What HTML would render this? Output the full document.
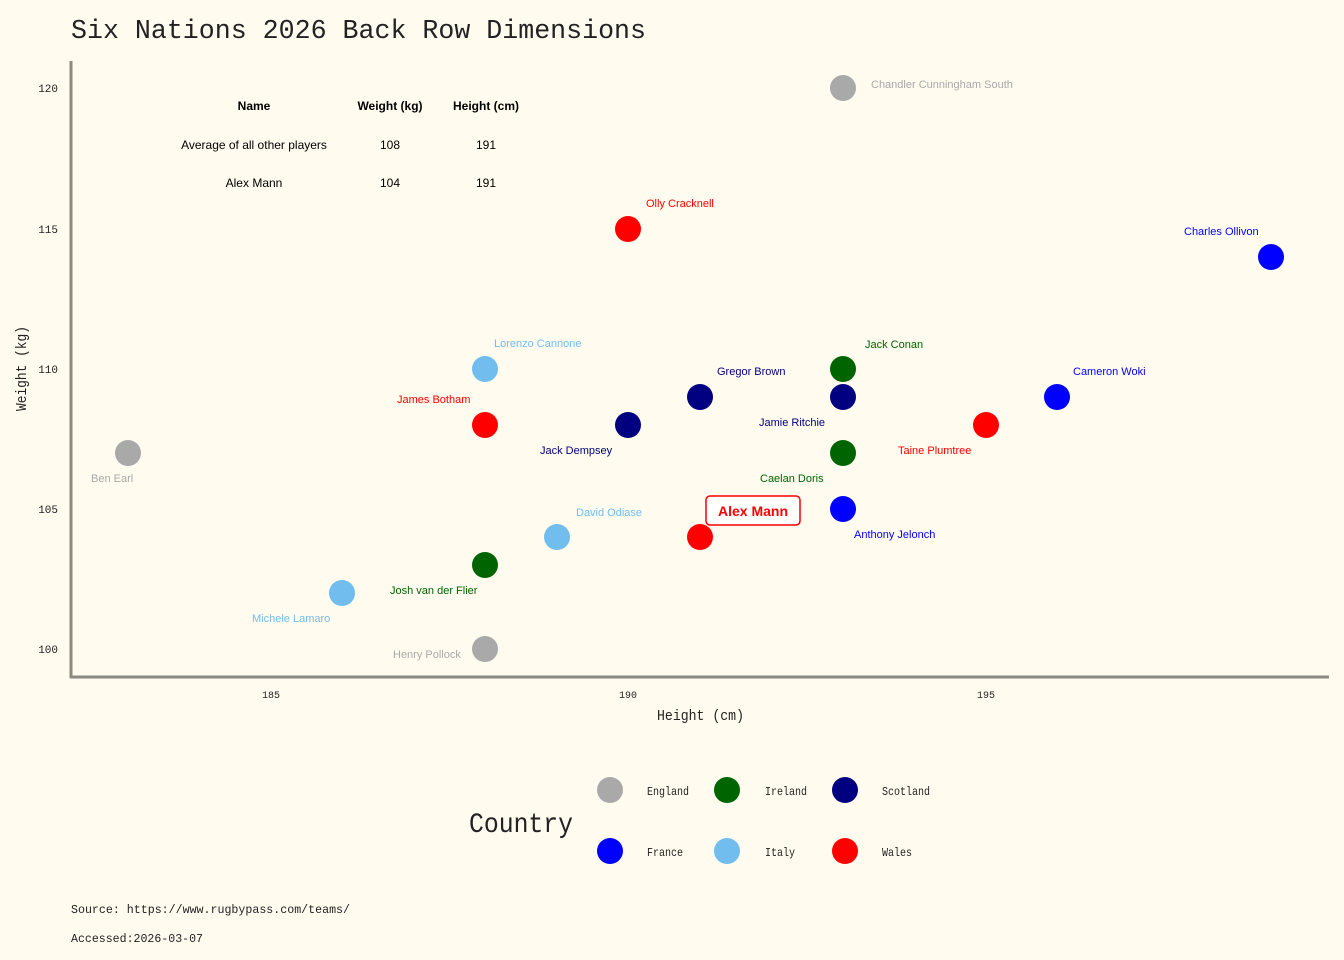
<!DOCTYPE html>
<html><head><meta charset="utf-8"><style>
html,body{margin:0;padding:0;background:#fffbef;}
svg{display:block}
.m{font-family:"Liberation Mono","DejaVu Sans Mono",monospace;fill:#222}
.s{font-family:"Liberation Sans",sans-serif;font-size:11px}
</style></head><body>
<svg width="1344" height="960" viewBox="0 0 1344 960" xmlns="http://www.w3.org/2000/svg">
<rect width="1344" height="960" fill="#fffbef"/>
<text class="m" x="71" y="38" font-size="27" textLength="575" lengthAdjust="spacingAndGlyphs">Six Nations 2026 Back Row Dimensions</text>
<line x1="71" y1="61" x2="71" y2="678" stroke="#8a8a80" stroke-width="3"/>
<line x1="70" y1="677" x2="1329" y2="677" stroke="#8a8a80" stroke-width="3"/>
<g class="m" font-size="11" text-anchor="end">
<text x="58" y="92">120</text><text x="58" y="233">115</text><text x="58" y="373">110</text><text x="58" y="513">105</text><text x="58" y="653">100</text>
</g>
<g class="m" font-size="10" text-anchor="middle">
<text x="271" y="698">185</text><text x="628" y="698">190</text><text x="986" y="698">195</text>
</g>
<text class="m" x="657" y="720" font-size="15" textLength="87" lengthAdjust="spacingAndGlyphs">Height (cm)</text>
<text class="m" font-size="15" transform="translate(26,411) rotate(-90)" textLength="85" lengthAdjust="spacingAndGlyphs">Weight (kg)</text>
<g font-family="Liberation Sans,sans-serif" font-size="12" font-weight="bold" text-anchor="middle" fill="#000">
<text x="254" y="110">Name</text><text x="390" y="110">Weight (kg)</text><text x="486" y="110">Height (cm)</text>
</g>
<g font-family="Liberation Sans,sans-serif" font-size="12" text-anchor="middle" fill="#000">
<text x="254" y="149">Average of all other players</text><text x="390" y="149">108</text><text x="486" y="149">191</text>
<text x="254" y="187">Alex Mann</text><text x="390" y="187">104</text><text x="486" y="187">191</text>
</g>
<g>
<circle cx="843" cy="88" r="13" fill="#a9a9a9"/>
<circle cx="628" cy="229" r="13" fill="#ff0000"/>
<circle cx="1271" cy="257" r="13" fill="#0000ff"/>
<circle cx="485" cy="369" r="13" fill="#71bdee"/>
<circle cx="843" cy="369" r="13" fill="#006400"/>
<circle cx="700" cy="397" r="13" fill="#000080"/>
<circle cx="843" cy="397" r="13" fill="#000080"/>
<circle cx="1057" cy="397" r="13" fill="#0000ff"/>
<circle cx="485" cy="425" r="13" fill="#ff0000"/>
<circle cx="628" cy="425" r="13" fill="#000080"/>
<circle cx="986" cy="425" r="13" fill="#ff0000"/>
<circle cx="128" cy="453" r="13" fill="#a9a9a9"/>
<circle cx="843" cy="453" r="13" fill="#006400"/>
<circle cx="843" cy="509" r="13" fill="#0000ff"/>
<circle cx="557" cy="537" r="13" fill="#71bdee"/>
<circle cx="700" cy="537" r="13" fill="#ff0000"/>
<circle cx="485" cy="565" r="13" fill="#006400"/>
<circle cx="342" cy="593" r="13" fill="#71bdee"/>
<circle cx="485" cy="649" r="13" fill="#a9a9a9"/>
</g>
<g class="s">
<text x="871" y="88" fill="#a9a9a9">Chandler Cunningham South</text>
<text x="646" y="207" fill="#ff0000">Olly Cracknell</text>
<text x="1184" y="235" fill="#0000ff">Charles Ollivon</text>
<text x="494" y="347" fill="#71bdee">Lorenzo Cannone</text>
<text x="865" y="348" fill="#006400">Jack Conan</text>
<text x="717" y="375" fill="#000080">Gregor Brown</text>
<text x="1073" y="375" fill="#0000ff">Cameron Woki</text>
<text x="397" y="403" fill="#ff0000">James Botham</text>
<text x="759" y="426" fill="#000080">Jamie Ritchie</text>
<text x="540" y="454" fill="#000080">Jack Dempsey</text>
<text x="898" y="454" fill="#ff0000">Taine Plumtree</text>
<text x="91" y="482" fill="#a9a9a9">Ben Earl</text>
<text x="760" y="482" fill="#006400">Caelan Doris</text>
<text x="576" y="516" fill="#71bdee">David Odiase</text>
<text x="854" y="538" fill="#0000ff">Anthony Jelonch</text>
<text x="390" y="594" fill="#006400">Josh van der Flier</text>
<text x="252" y="622" fill="#71bdee">Michele Lamaro</text>
<text x="393" y="658" fill="#a9a9a9">Henry Pollock</text>
</g>
<rect x="706" y="496" width="94" height="29" rx="4" fill="#fff" stroke="#ff0000" stroke-width="1.5"/>
<text x="753" y="516" text-anchor="middle" font-family="Liberation Sans,sans-serif" font-size="14" font-weight="bold" fill="#ff0000">Alex Mann</text>
<text class="m" x="469" y="832" font-size="28" textLength="104" lengthAdjust="spacingAndGlyphs">Country</text>
<circle cx="610" cy="790" r="13" fill="#a9a9a9"/><circle cx="727" cy="790" r="13" fill="#006400"/><circle cx="845" cy="790" r="13" fill="#000080"/>
<circle cx="610" cy="851" r="13" fill="#0000ff"/><circle cx="727" cy="851" r="13" fill="#71bdee"/><circle cx="845" cy="851" r="13" fill="#ff0000"/>
<g class="m" font-size="12">
<text x="647" y="795" textLength="42" lengthAdjust="spacingAndGlyphs">England</text>
<text x="765" y="795" textLength="42" lengthAdjust="spacingAndGlyphs">Ireland</text>
<text x="882" y="795" textLength="48" lengthAdjust="spacingAndGlyphs">Scotland</text>
<text x="647" y="856" textLength="36" lengthAdjust="spacingAndGlyphs">France</text>
<text x="765" y="856" textLength="30" lengthAdjust="spacingAndGlyphs">Italy</text>
<text x="882" y="856" textLength="30" lengthAdjust="spacingAndGlyphs">Wales</text>
</g>
<text class="m" x="71" y="913" font-size="12" textLength="279" lengthAdjust="spacingAndGlyphs">Source: https://www.rugbypass.com/teams/</text>
<text class="m" x="71" y="942" font-size="12" textLength="132" lengthAdjust="spacingAndGlyphs">Accessed:2026-03-07</text>
</svg>
</body></html>
